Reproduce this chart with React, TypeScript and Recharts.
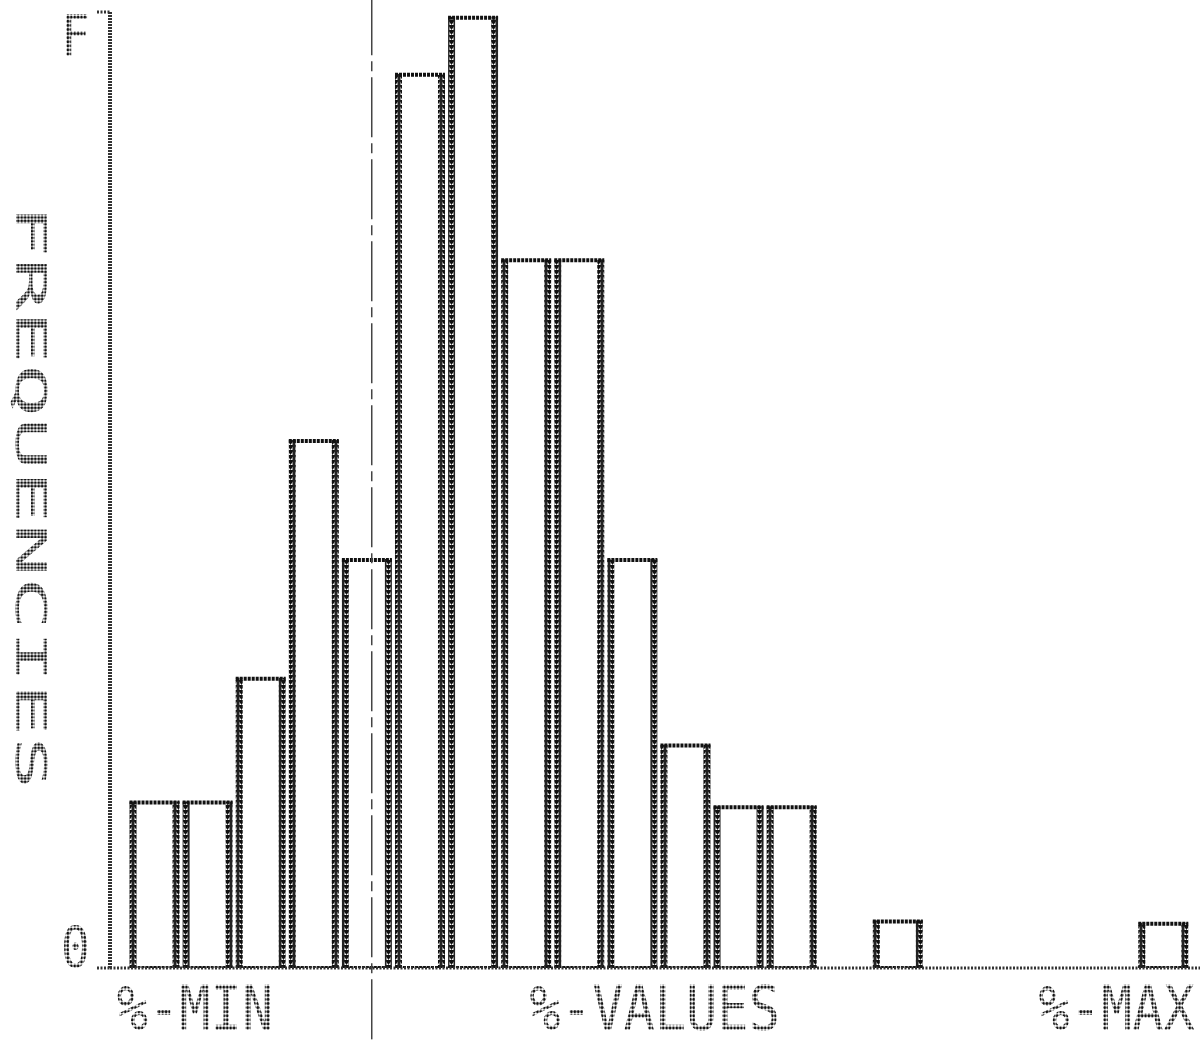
import { BarChart, Bar, XAxis, YAxis, ReferenceLine } from 'recharts';

// histogram bins (index along X-VALUES) and frequencies
const bins = [0, 1, 2, 3, 4, 5, 6, 7, 8, 9, 10, 11, 12, 13, 14, 15, 16, 17, 18, 19];
const freqs = [3.5, 3.5, 6.1, 11.1, 8.6, 18.8, 20.0, 14.9, 14.9, 8.6, 4.7, 3.4, 3.4, 0, 1.0, 0, 0, 0, 0, 0.95];

const xTickValues = [0.77, 9.43, 18.13];
const xTickLabels = ['%-MIN', '%-VALUES', '%-MAX'];

const yMax = 20.1;
const yTickValues = [0, yMax];
const yTickLabels = ['0', 'F'];

const meanMarker = 4.1;

const data = bins.map((b, i) => ({ bin: b, freq: freqs[i] }));

const FONT = '"DejaVu Sans Mono", "Liberation Mono", monospace';

function HistBar(props: any) {
  const { x, y, width, height } = props;
  if (!height || height <= 0) return <g />;
  const s = 7;
  return (
    <g>
      <rect x={x} y={y} width={s} height={height} fill="url(#vstrip)" />
      <rect x={x + width - s} y={y} width={s} height={height} fill="url(#vstrip)" />
      <line x1={x} x2={x + width} y1={y + 1} y2={y + 1} stroke="#111" strokeWidth={4} strokeDasharray="3 1" />
      <line x1={x} x2={x + width} y1={y + height} y2={y + height} stroke="#111" strokeWidth={4} strokeDasharray="3 1" />
    </g>
  );
}

function XTick(props: any) {
  const { x, y, payload } = props;
  const i = xTickValues.indexOf(payload.value);
  return (
    <g transform={`translate(${x},${y + 62}) scale(1,1.2)`}>
      <text x={0} y={0} textAnchor="middle" fontFamily={FONT} fontSize={52} fill="url(#dots)">
        {xTickLabels[i]}
      </text>
    </g>
  );
}

function YTick(props: any) {
  const { x, y, payload } = props;
  const i = yTickValues.indexOf(payload.value);
  const top = i === 1;
  return (
    <g>
      <line x1={x - 13} x2={x} y1={y} y2={y} stroke="#333" strokeWidth={3} strokeDasharray="2 1.5" />
      <g transform={`translate(${x - 20},${top ? y + 44 : y}) scale(1,1.2)`}>
        <text x={0} y={0} textAnchor="end" fontFamily={FONT} fontSize={48} fill="url(#dots)">
          {yTickLabels[i]}
        </text>
      </g>
    </g>
  );
}

export default function App() {
  return (
    <div style={{ position: 'absolute', left: 0, top: 0, width: 1201, height: 1047, background: '#fff' }}>
      <BarChart
        width={1201}
        height={1047}
        data={data}
        margin={{ top: 12, right: 1, bottom: 69, left: 100 }}
      >
        <defs>
          <pattern id="dots" width="3.4" height="3.4" patternUnits="userSpaceOnUse">
            <circle cx="1.7" cy="1.7" r="1.4" fill="#111" />
          </pattern>
          <pattern id="vstrip" width="7" height="5" patternUnits="userSpaceOnUse">
            <rect width="7" height="5" fill="#fff" />
            <path d="M0,0 L3.5,5 L7,0 Z" fill="#111" />
            <rect x="0" y="0" width="1.5" height="5" fill="#222" />
            <rect x="5.5" y="0" width="1.5" height="5" fill="#222" />
          </pattern>
        </defs>
        <XAxis
          type="number"
          dataKey="bin"
          domain={[-0.83, 19.7]}
          allowDataOverflow
          ticks={xTickValues}
          interval={0}
          height={10}
          tickLine={false}
          tickSize={0}
          tickMargin={0}
          tick={<XTick />}
          axisLine={{ stroke: '#333', strokeWidth: 3, strokeDasharray: '2 1.5' }}
        />
        <YAxis
          type="number"
          domain={[0, yMax]}
          allowDataOverflow
          ticks={yTickValues}
          interval={0}
          width={10}
          tickSize={0}
          tickMargin={0}
          tickLine={false}
          tick={<YTick />}
          axisLine={{ stroke: '#333', strokeWidth: 4, strokeDasharray: '2 1' }}
          label={{
            value: 'FREQUENCIES',
            position: 'insideLeft',
            content: () => (
              <text
                x={16}
                y={497}
                transform="rotate(90 16 497)"
                textAnchor="middle"
                fontFamily={FONT}
                fontSize={42}
                textLength={585}
                lengthAdjust="spacingAndGlyphs"
                fill="url(#dots)"
              >
                FREQUENCIES
              </text>
            ),
          }}
        />
        <ReferenceLine
          segment={[{ x: meanMarker, y: -1.5 }, { x: meanMarker, y: 20.35 }]}
          ifOverflow="visible"
          stroke="#444"
          strokeWidth={1.5}
          strokeDasharray="60 6 10 6"
        />
        <Bar dataKey="freq" barSize={50} shape={<HistBar />} isAnimationActive={false} />
      </BarChart>
    </div>
  );
}
